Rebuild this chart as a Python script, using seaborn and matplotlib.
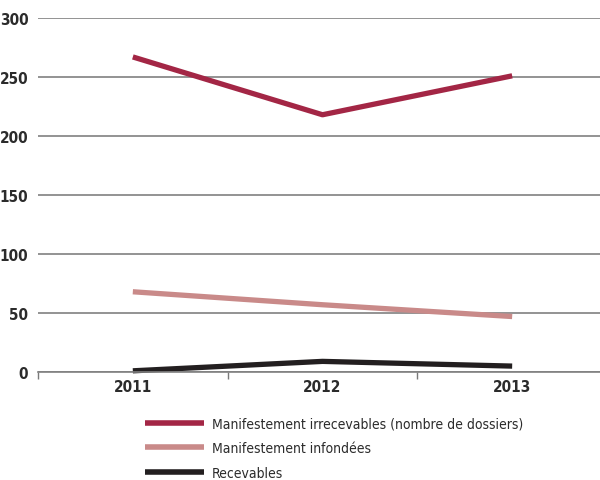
import matplotlib
matplotlib.use("Agg")
import matplotlib.pyplot as plt
import seaborn as sns
import pandas as pd
from matplotlib.ticker import FixedLocator

years = ["2011", "2012", "2013"]
series_names = [
    "Manifestement irrecevables (nombre de dossiers)",
    "Manifestement infondées",
    "Recevables",
]
irrecevables = [267, 218, 251]
infondees = [68, 57, 47]
recevables = [1, 9, 5]
colors = ["#A32645", "#C98A89", "#231F20"]
y_ticks = [0, 50, 100, 150, 200, 250, 300]

rows = []
for name, vals in zip(series_names, [irrecevables, infondees, recevables]):
    for i, (yr, v) in enumerate(zip(years, vals)):
        rows.append({"pos": i, "annee": yr, "valeur": v, "serie": name})
df = pd.DataFrame(rows)

sns.set_theme(style="white")
plt.rcParams["font.family"] = ["DejaVu Sans"]
plt.rcParams["font.stretch"] = "condensed"
text_color = "#2b2b2b"

fig = plt.figure(figsize=(6.0, 4.81), dpi=100)
ax = fig.add_axes([38 / 600, (481 - 373) / 481, 569 / 600, 354 / 481])

sns.lineplot(data=df, x="pos", y="valeur", hue="serie", hue_order=series_names,
             palette=colors, linewidth=3.8, ax=ax, legend=False)
for ln in ax.lines:
    ln.set_clip_on(False)
    ln.set_solid_capstyle("butt")

ax.set_xlim(-0.5, 2.5)
ax.set_ylim(0, 300)
ax.set_yticks(y_ticks)
ax.set_yticklabels([str(t) for t in y_ticks])
ax.set_xticks(range(len(years)))
ax.set_xticklabels(years)
ax.xaxis.set_minor_locator(FixedLocator([-0.5, 0.5, 1.5, 2.5]))
ax.tick_params(axis="x", which="major", length=0, pad=5, labelsize=11,
               labelcolor=text_color)
ax.tick_params(axis="x", which="minor", length=5, width=1, color="#7a7a7a",
               direction="out", bottom=True)
ax.tick_params(axis="y", length=0, pad=7, labelsize=11, labelcolor=text_color)
for lbl in ax.get_xticklabels() + ax.get_yticklabels():
    lbl.set_fontweight("bold")
    lbl.set_fontstretch("condensed")

ax.grid(axis="y", color="#808080", linewidth=1.2)
ax.set_axisbelow(True)
for s in ["left", "right", "top"]:
    ax.spines[s].set_visible(False)
ax.spines["bottom"].set_color("#808080")
ax.spines["bottom"].set_linewidth(1.2)
ax.set_xlabel("")
ax.set_ylabel("")

handles = [plt.Line2D([], [], color=c, linewidth=4.0, solid_capstyle="butt")
           for c in colors]
leg = fig.legend(handles, series_names, loc="upper left",
                 bbox_to_anchor=(132 / 600, 1 - 405 / 481), frameon=False,
                 handlelength=4.3, handletextpad=0.55, labelspacing=0.78,
                 prop={"size": 10, "weight": "normal", "stretch": "condensed"})
for t in leg.get_texts():
    t.set_color(text_color)

fig.savefig("out.png", dpi=100)
